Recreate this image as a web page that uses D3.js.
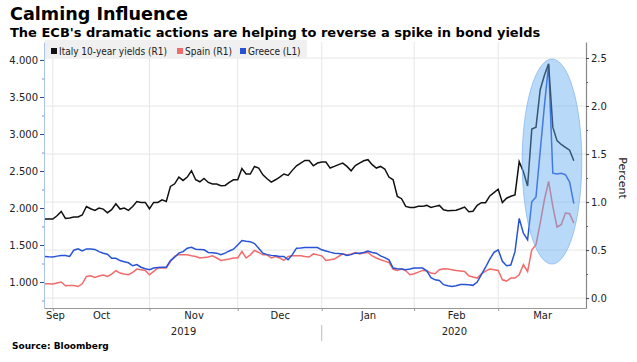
<!DOCTYPE html>
<html>
<head>
<meta charset="utf-8">
<script src="https://cdn.jsdelivr.net/npm/d3@7"></script>
<style>
  body { margin: 0; background: #fff; }
  text { font-family: "DejaVu Sans", sans-serif; }
</style>
</head>
<body>
<div id="chart"></div>
<script>
// daily values, one per trading day from Sep 27 2019 to Mar 26 2020
const italy = [
  0.823, 0.823, 0.823, 0.857, 0.902, 0.829, 0.835, 0.844, 0.844, 0.865,
  0.954, 0.930, 0.913, 0.938, 0.927, 0.889, 0.920, 0.982, 0.927, 0.938,
  0.913, 0.954, 1.006, 0.996, 0.996, 0.930, 0.996, 0.996, 1.024, 1.006,
  1.163, 1.190, 1.260, 1.225, 1.260, 1.326, 1.232, 1.211, 1.246, 1.204,
  1.188, 1.188, 1.170, 1.173, 1.204, 1.232, 1.232, 1.350, 1.292, 1.292,
  1.371, 1.354, 1.284, 1.243, 1.208, 1.232, 1.260, 1.292, 1.277, 1.330,
  1.378, 1.406, 1.433, 1.433, 1.378, 1.406, 1.417, 1.417, 1.354, 1.371,
  1.390, 1.406, 1.371, 1.326, 1.380, 1.406, 1.430, 1.441, 1.389, 1.354,
  1.371, 1.344, 1.260, 1.232, 1.059, 1.035, 0.955, 0.944, 0.944, 0.955,
  0.955, 0.965, 0.944, 0.955, 0.965, 0.920, 0.910, 0.913, 0.915, 0.930,
  0.948, 0.900, 0.904, 0.966, 0.994, 0.994, 1.064, 1.098, 1.134, 0.994,
  1.040, 1.060, 1.074, 1.420, 1.316, 1.167, 1.760, 1.780, 2.170, 2.320,
  2.440, 1.780, 1.640, 1.600, 1.570, 1.540, 1.430
];
const spain = [
  0.149, 0.148, 0.146, 0.156, 0.167, 0.128, 0.130, 0.131, 0.120, 0.149,
  0.225, 0.233, 0.215, 0.230, 0.240, 0.225, 0.250, 0.285, 0.260, 0.250,
  0.243, 0.267, 0.302, 0.295, 0.288, 0.243, 0.278, 0.313, 0.313, 0.313,
  0.381, 0.434, 0.452, 0.450, 0.450, 0.440, 0.433, 0.417, 0.422, 0.427,
  0.440, 0.417, 0.392, 0.399, 0.406, 0.417, 0.417, 0.485, 0.417, 0.450,
  0.496, 0.475, 0.450, 0.450, 0.417, 0.433, 0.417, 0.392, 0.433, 0.440,
  0.440, 0.440, 0.433, 0.427, 0.460, 0.450, 0.440, 0.392, 0.400, 0.406,
  0.433, 0.460, 0.450, 0.460, 0.475, 0.460, 0.470, 0.475, 0.440, 0.417,
  0.399, 0.385, 0.371, 0.300, 0.288, 0.305, 0.284, 0.243, 0.253, 0.270,
  0.288, 0.284, 0.260, 0.253, 0.295, 0.305, 0.302, 0.295, 0.288, 0.283,
  0.277, 0.232, 0.219, 0.208, 0.253, 0.280, 0.302, 0.295, 0.288, 0.190,
  0.177, 0.208, 0.208, 0.243, 0.347, 0.277, 0.503, 0.556, 0.780, 1.024,
  1.215, 0.954, 0.740, 0.764, 0.885, 0.878, 0.780
];
const greece = [
  1.345, 1.340, 1.337, 1.350, 1.358, 1.358, 1.345, 1.430, 1.450, 1.420,
  1.447, 1.445, 1.440, 1.410, 1.390, 1.376, 1.320, 1.320, 1.290, 1.275,
  1.260, 1.220, 1.236, 1.200, 1.180, 1.166, 1.190, 1.195, 1.200, 1.200,
  1.290, 1.337, 1.390, 1.410, 1.457, 1.470, 1.444, 1.440, 1.435, 1.400,
  1.395, 1.390, 1.370, 1.390, 1.420, 1.444, 1.500, 1.560, 1.550, 1.545,
  1.520, 1.457, 1.390, 1.370, 1.360, 1.354, 1.345, 1.345, 1.300, 1.370,
  1.457, 1.460, 1.465, 1.465, 1.465, 1.465, 1.435, 1.420, 1.404, 1.390,
  1.385, 1.380, 1.358, 1.370, 1.390, 1.390, 1.400, 1.420, 1.400, 1.390,
  1.354, 1.330, 1.300, 1.188, 1.180, 1.175, 1.166, 1.175, 1.188, 1.188,
  1.188, 1.152, 1.060, 1.030, 1.020, 0.964, 0.950, 0.941, 0.950, 0.965,
  0.966, 0.964, 0.955, 1.000, 1.100, 1.200, 1.310, 1.400, 1.435, 1.280,
  1.220, 1.230, 1.410, 1.860, 1.660, 1.570, 2.085, 2.150, 2.770, 3.380,
  3.940, 2.470, 2.460, 2.470, 2.450, 2.350, 2.060
];

// month labels and the trading-day index where each month starts
const months = ["Sep", "Oct", "Nov", "Dec", "Jan", "Feb", "Mar"];
const monthStart = [0, 2, 25, 46, 66, 88, 108, 130];
const years = ["2019", "2020"];
const yearStart = [0, 66];

const leftTicks = [1.0, 1.5, 2.0, 2.5, 3.0, 3.5, 4.0];
const leftMinor = [0.75, 1.25, 1.75, 2.25, 2.75, 3.25, 3.75];
const rightTicks = [0.0, 0.5, 1.0, 1.5, 2.0, 2.5];
const rightMinor = [0.25, 0.75, 1.25, 1.75, 2.25];

const legendItems = [
  { label: "Italy 10-year yields (R1)", color: "#111111" },
  { label: "Spain (R1)", color: "#f26b6b" },
  { label: "Greece (L1)", color: "#2753d6" }
];

// highlight ellipse round the March spike (x in days, y on right axis)
const highlight = { from: 113.7, to: 127.9, top: 2.49, bottom: 0.354 };

const margin = { top: 42, right: 51, bottom: 54, left: 44 };
const width = 637, height = 362;
const plotW = width - margin.left - margin.right;
const plotH = height - margin.top - margin.bottom;
const x0 = margin.left, x1 = margin.left + plotW;
const yTop = margin.top, yBot = margin.top + plotH;

const svg = d3.select("#chart").append("svg")
    .attr("width", width)
    .attr("height", height);

const xScale = d3.scaleLinear().domain([-0.1, 128.9]).range([x0, x1]);
const yLeft = d3.scaleLinear().domain([0.649, 4.243]).range([yBot, yTop]);
const yRight = d3.scaleLinear().domain([-0.1035, 2.667]).range([yBot, yTop]);

// titles
svg.append("text").attr("x", 10).attr("y", 20)
    .attr("font-size", 17.6).attr("font-weight", "bold").attr("fill", "#000")
    .text("Calming Influence");
svg.append("text").attr("x", 10).attr("y", 37)
    .attr("font-size", 13).attr("font-weight", "bold").attr("fill", "#000")
    .text("The ECB's dramatic actions are helping to reverse a spike in bond yields");

// grid
svg.append("g").selectAll("line").data(rightTicks).join("line")
    .attr("x1", x0).attr("x2", x1)
    .attr("y1", d => yRight(d)).attr("y2", d => yRight(d))
    .attr("stroke", "#e6e6e6");
svg.append("g").selectAll("line").data(monthStart.slice(1, -1)).join("line")
    .attr("x1", d => xScale(d)).attr("x2", d => xScale(d))
    .attr("y1", yTop).attr("y2", yBot)
    .attr("stroke", "#e6e6e6");

// legend
const legend = svg.append("g");
legend.append("rect").attr("x", x0 + 1).attr("y", yTop - 2)
    .attr("width", 262).attr("height", 18).attr("fill", "#f0f0f0");
const legendX = [51, 177, 240];
legendItems.forEach((d, i) => {
  legend.append("rect").attr("x", legendX[i]).attr("y", 48)
      .attr("width", 6).attr("height", 6).attr("fill", d.color);
  legend.append("text").attr("x", legendX[i] + 8).attr("y", 55)
      .attr("font-size", 10).attr("font-stretch", "condensed").attr("fill", "#222")
      .text(d.label);
});

// series
const lineRight = d3.line().x((d, i) => xScale(i)).y(d => yRight(d));
const lineLeft = d3.line().x((d, i) => xScale(i)).y(d => yLeft(d));
svg.append("path").datum(spain).attr("d", lineRight)
    .attr("fill", "none").attr("stroke", legendItems[1].color).attr("stroke-width", 1.5);
svg.append("path").datum(greece).attr("d", lineLeft)
    .attr("fill", "none").attr("stroke", legendItems[2].color).attr("stroke-width", 1.5);
svg.append("path").datum(italy).attr("d", lineRight)
    .attr("fill", "none").attr("stroke", legendItems[0].color).attr("stroke-width", 1.5);

// highlight
svg.append("ellipse")
    .attr("cx", (xScale(highlight.from) + xScale(highlight.to)) / 2)
    .attr("cy", (yRight(highlight.top) + yRight(highlight.bottom)) / 2)
    .attr("rx", (xScale(highlight.to) - xScale(highlight.from)) / 2)
    .attr("ry", (yRight(highlight.bottom) - yRight(highlight.top)) / 2)
    .attr("fill", "rgb(100,170,240)").attr("fill-opacity", 0.45)
    .attr("stroke", "rgb(110,170,235)").attr("stroke-opacity", 0.6);

// left axis
const leftAxis = svg.append("g").attr("transform", `translate(${x0},0)`)
    .call(d3.axisLeft(yLeft).tickValues(leftTicks).tickFormat(d3.format(".3f"))
      .tickSize(4).tickSizeOuter(0).tickPadding(2));
leftAxis.select(".domain").attr("stroke", "#a9c3ea");
leftAxis.selectAll(".tick line").attr("stroke", "#2d4f9e");
leftAxis.selectAll("text").attr("font-size", 10).attr("fill", "#222")
    .attr("font-family", "DejaVu Sans");
const leftMinorAxis = svg.append("g").attr("transform", `translate(${x0},0)`)
    .call(d3.axisLeft(yLeft).tickValues(leftMinor).tickFormat("").tickSize(2).tickSizeOuter(0));
leftMinorAxis.select(".domain").remove();
leftMinorAxis.selectAll(".tick line").attr("stroke", "#7f95c4");

// right axis
const rightAxis = svg.append("g").attr("transform", `translate(${x1},0)`)
    .call(d3.axisRight(yRight).tickValues(rightTicks).tickFormat(d3.format(".1f"))
      .tickSize(3).tickSizeOuter(0).tickPadding(2));
rightAxis.select(".domain").attr("stroke", "#888").attr("stroke-width", 1.2);
rightAxis.selectAll(".tick line").attr("stroke", "#444");
rightAxis.selectAll("text").attr("font-size", 10).attr("fill", "#222")
    .attr("font-family", "DejaVu Sans");
const rightMinorAxis = svg.append("g").attr("transform", `translate(${x1},0)`)
    .call(d3.axisRight(yRight).tickValues(rightMinor).tickFormat("").tickSize(2).tickSizeOuter(0));
rightMinorAxis.select(".domain").remove();
rightMinorAxis.selectAll(".tick line").attr("stroke", "#666");

svg.append("text")
    .attr("transform", `translate(619,${yRight(1.25)}) rotate(90)`)
    .attr("text-anchor", "middle").attr("font-size", 11).attr("fill", "#222")
    .text("Percent");

// bottom axis: month boundary ticks, month labels, year labels
const bottomAxis = svg.append("g").attr("transform", `translate(0,${yBot})`)
    .call(d3.axisBottom(xScale).tickValues(monthStart.slice(1, -1)).tickFormat("")
      .tickSize(3).tickSizeOuter(0));
bottomAxis.select(".domain").attr("stroke", "#999");
bottomAxis.selectAll(".tick line").attr("stroke", "#999");

const xMin = xScale.invert(x0 + 11);
const monthMid = months.map((m, i) =>
  Math.max((Math.max(monthStart[i], -0.1) + Math.min(monthStart[i + 1], 128.9)) / 2, xMin));
const monthAxis = svg.append("g").attr("transform", `translate(0,${yBot})`)
    .call(d3.axisBottom(xScale).tickValues(monthMid).tickFormat((d, i) => months[i])
      .tickSize(0).tickPadding(4));
monthAxis.select(".domain").remove();
monthAxis.selectAll("text").attr("font-size", 10).attr("fill", "#222")
    .attr("font-family", "DejaVu Sans");

const yearEdges = yearStart.map(d => Math.max(d, -0.1)).concat([128.9]);
const yearMid = years.map((y, i) => (yearEdges[i] + yearEdges[i + 1]) / 2);
const yearAxis = svg.append("g").attr("transform", `translate(0,${yBot})`)
    .call(d3.axisBottom(xScale).tickValues(yearMid).tickFormat((d, i) => years[i])
      .tickSize(0).tickPadding(20));
yearAxis.select(".domain").remove();
yearAxis.selectAll("text").attr("font-size", 10).attr("fill", "#222")
    .attr("font-family", "DejaVu Sans");
svg.append("line")
    .attr("x1", xScale(yearStart[1])).attr("x2", xScale(yearStart[1]))
    .attr("y1", yBot + 17).attr("y2", yBot + 33)
    .attr("stroke", "#bbb");

// source
svg.append("text").attr("x", 12).attr("y", 349)
    .attr("font-size", 9).attr("font-weight", "bold").attr("fill", "#000")
    .text("Source: Bloomberg");
</script>
</body>
</html>
